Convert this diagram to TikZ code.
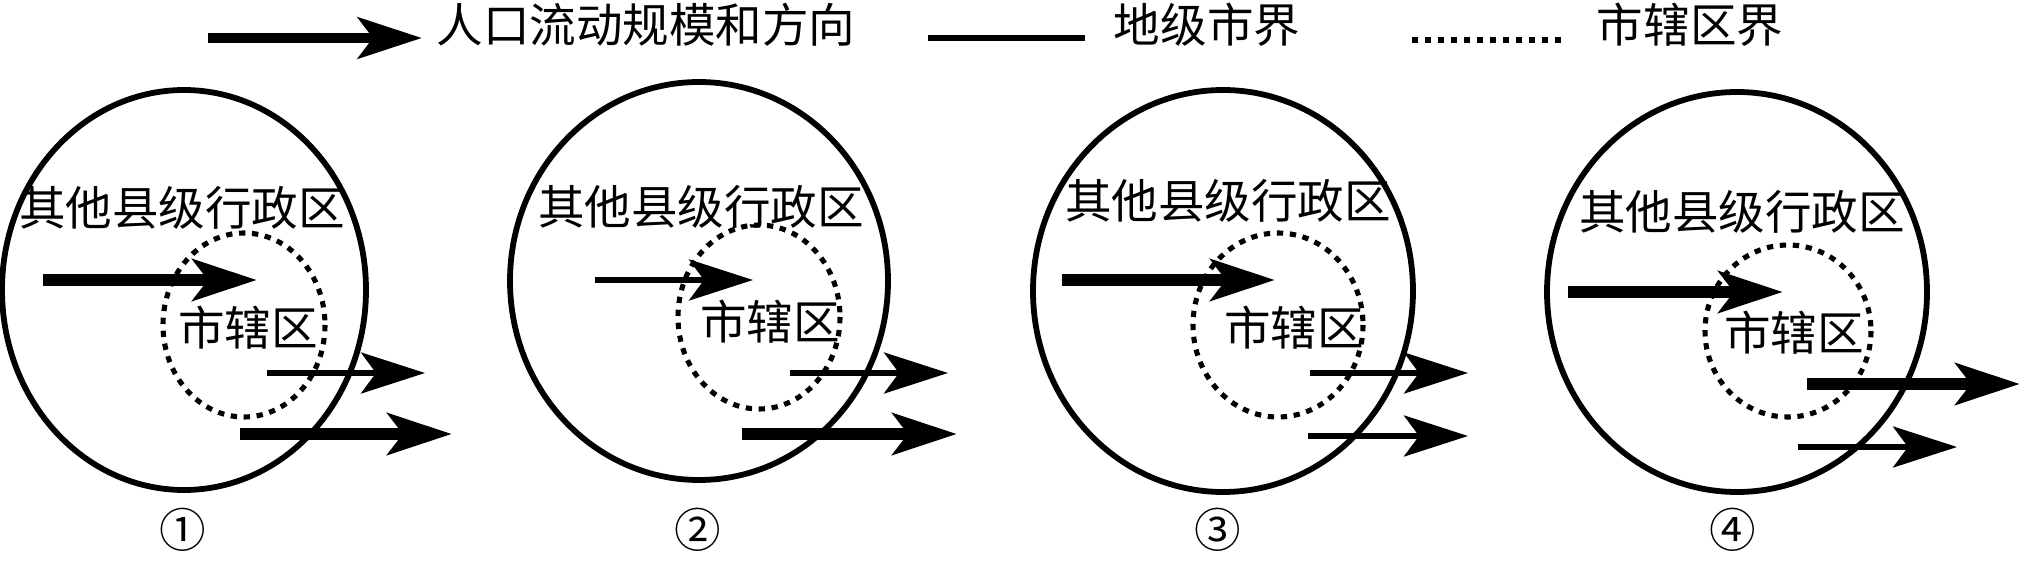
\documentclass[tikz,border=0pt]{standalone}
\usepackage{fontspec}
\newfontfamily\cjk{Noto Sans CJK SC}
\usetikzlibrary{positioning, arrows.meta}

\tikzset{
  border/.style={line width=3.3pt},
  district/.style={line width=2.9pt, dash pattern=on 3.6pt off 3.8pt},
  flow/.style={-{Stealth[length=1.28cm, width=0.82cm, inset=0.3cm]}},
  bigflow/.style={flow, line width=7pt},
  smallflow/.style={flow, line width=2.9pt},
  lbl/.style={font=\cjk\fontsize{26.5}{30}\selectfont, inner sep=0pt},
}

\begin{document}
\begin{tikzpicture}[x=0.02cm, y=-0.02cm]
  \useasboundingbox (0,0) rectangle (2022,564);

  % legend
  \coordinate (key-a1) at (208,38);
  \coordinate (key-a2) at (422,38);
  \draw[flow, line width=5.9pt] (key-a1) -- (key-a2);
  \node[lbl] (key-flow) at (646,25) {人口流动规模和方向};
  \coordinate (key-b1) at (928,38);
  \coordinate (key-b2) at (1085,38);
  \draw[border] (key-b1) -- (key-b2);
  \node[lbl] (key-city) at (1207,25) {地级市界};
  \coordinate (key-c1) at (1412,40);
  \coordinate (key-c2) at (1568,40);
  \draw[district] (key-c1) -- (key-c2);
  \node[lbl] (key-dist) at (1690,25) {市辖区界};

  % case 1
  \draw[border] (184,290) ellipse [x radius=182, y radius=200];
  \draw[district] (244,325) ellipse [x radius=81, y radius=92];
  \node[lbl] (other1) at (182,208) {其他县级行政区};
  \node[lbl] (urban1) at (248,328) {市辖区};
  \coordinate (in1-s) at (43,280);
  \coordinate (in1-e) at (257,280);
  \coordinate (outa1-s) at (267,373);
  \coordinate (outa1-e) at (425,373);
  \coordinate (outb1-s) at (240,434);
  \coordinate (outb1-e) at (452,434);
  \draw[bigflow] (in1-s) -- (in1-e);
  \draw[smallflow] (outa1-s) -- (outa1-e);
  \draw[bigflow] (outb1-s) -- (outb1-e);
  \node[lbl] (case1) at (183,530) {①};

  % case 2
  \draw[border] (699,281) ellipse [x radius=189, y radius=199];
  \draw[district] (759,317) ellipse [x radius=81, y radius=92];
  \node[lbl] (other2) at (701,207) {其他县级行政区};
  \node[lbl] (urban2) at (770,322) {市辖区};
  \coordinate (in2-s) at (595,280);
  \coordinate (in2-e) at (753,280);
  \coordinate (outa2-s) at (790,373);
  \coordinate (outa2-e) at (948,373);
  \coordinate (outb2-s) at (742,434);
  \coordinate (outb2-e) at (957,434);
  \draw[smallflow] (in2-s) -- (in2-e);
  \draw[smallflow] (outa2-s) -- (outa2-e);
  \draw[bigflow] (outb2-s) -- (outb2-e);
  \node[lbl] (case2) at (698,530) {②};

  % case 3
  \draw[border] (1223,291) ellipse [x radius=190, y radius=201];
  \draw[district] (1278,325) ellipse [x radius=85, y radius=92];
  \node[lbl] (other3) at (1228,201) {其他县级行政区};
  \node[lbl] (urban3) at (1294,328) {市辖区};
  \coordinate (in3-s) at (1062,280);
  \coordinate (in3-e) at (1275,280);
  \coordinate (outa3-s) at (1310,373);
  \coordinate (outa3-e) at (1468,373);
  \coordinate (outb3-s) at (1308,436);
  \coordinate (outb3-e) at (1468,436);
  \draw[bigflow] (in3-s) -- (in3-e);
  \draw[smallflow] (outa3-s) -- (outa3-e);
  \draw[smallflow] (outb3-s) -- (outb3-e);
  \node[lbl] (case3) at (1218,530) {③};

  % case 4
  \draw[border] (1737,292) ellipse [x radius=190, y radius=200];
  \draw[district] (1788,331) ellipse [x radius=83, y radius=86];
  \node[lbl] (other4) at (1742,212) {其他县级行政区};
  \node[lbl] (urban4) at (1794,333) {市辖区};
  \coordinate (in4-s) at (1568,292);
  \coordinate (in4-e) at (1783,292);
  \coordinate (outa4-s) at (1807,384);
  \coordinate (outa4-e) at (2020,384);
  \coordinate (outb4-s) at (1798,447);
  \coordinate (outb4-e) at (1957,447);
  \draw[bigflow] (in4-s) -- (in4-e);
  \draw[bigflow] (outa4-s) -- (outa4-e);
  \draw[smallflow] (outb4-s) -- (outb4-e);
  \node[lbl] (case4) at (1733,530) {④};
\end{tikzpicture}
\end{document}
